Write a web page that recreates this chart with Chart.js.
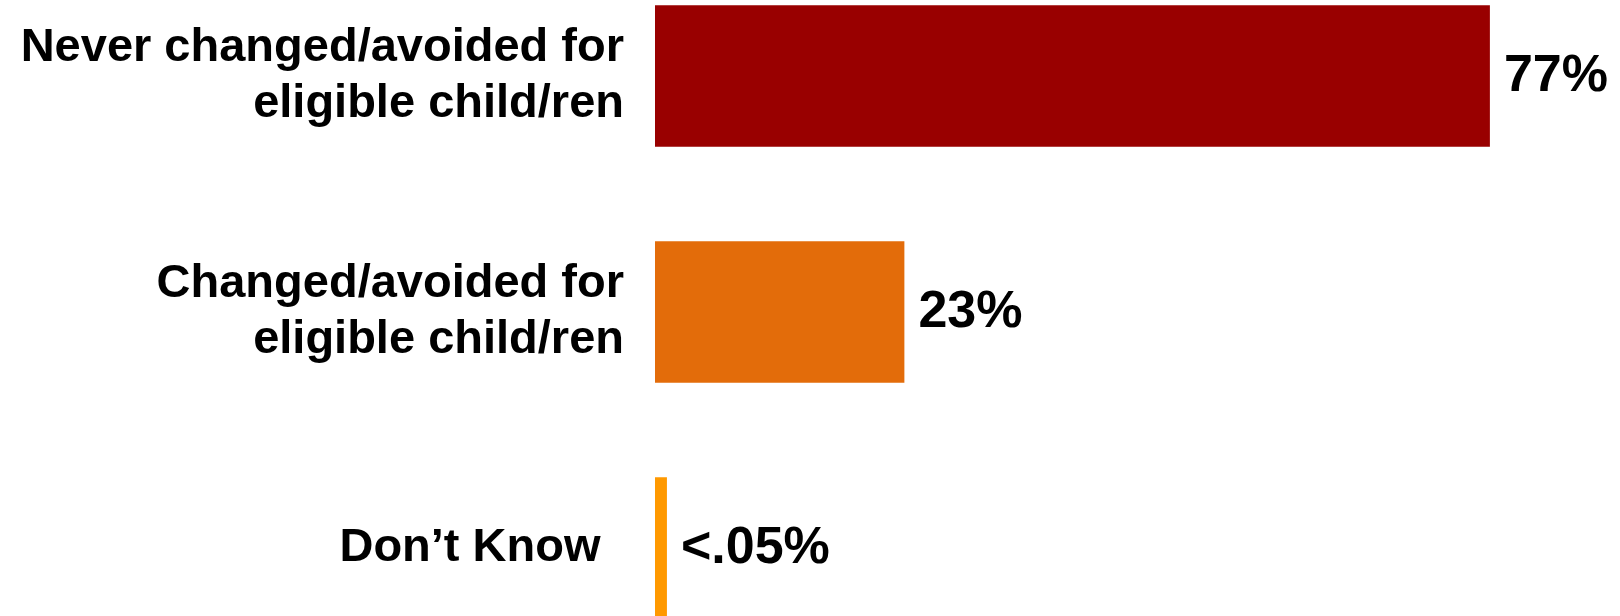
<!DOCTYPE html>
<html>
<head>
<meta charset="utf-8">
<script src="https://cdn.jsdelivr.net/npm/chart.js@4/dist/chart.umd.min.js"></script>
<style>
  html, body { margin: 0; padding: 0; background: #fff; overflow: hidden; }
  body { width: 1620px; height: 616px; position: relative; }
  #chart { position: absolute; left: 0; top: -42px; }
</style>
</head>
<body>
<canvas id="chart" width="1620" height="708"></canvas>
<script>
// Kategorie a hodnoty
const categories = [
  ["Never changed/avoided for", "eligible child/ren"],
  ["Changed/avoided for", "eligible child/ren"],
  "Don\u2019t Know\u2002",
];
const values = [77, 23, 1.1];
const valueLabels = ["77%", "23%", "<.05%"];

const barColors = ["#990000", "#E36C0A", "#FF9900"];
const fontFamily = "'Liberation Sans', Arial, Helvetica, sans-serif";

// Popisky hodnot vpravo od sloupců
const valueLabelPlugin = {
  id: "valueLabels",
  afterDatasetsDraw: function (chart) {
    const ctx = chart.ctx;
    const meta = chart.getDatasetMeta(0);
    ctx.save();
    ctx.font = "bold 52px " + fontFamily;
    ctx.fillStyle = "#000";
    ctx.textAlign = "left";
    ctx.textBaseline = "middle";
    meta.data.forEach((bar, i) => {
      ctx.fillText(valueLabels[i], bar.x + 14, bar.y + 1);
    });
    ctx.restore();
  },
};

const ctx = document.getElementById("chart").getContext("2d");
new Chart(ctx, {
  type: "bar",
  data: {
    labels: categories,
    datasets: [
      {
        data: values,
        backgroundColor: barColors,
        borderWidth: 0,
        barPercentage: 0.6,
        categoryPercentage: 1,
      },
    ],
  },
  options: {
    indexAxis: "y",
    responsive: false,
    animation: false,
    devicePixelRatio: 1,
    layout: { padding: 0 },
    plugins: {
      legend: { display: false },
      tooltip: { enabled: false },
    },
    scales: {
      x: {
        display: false,
        min: 0,
        max: 89,
      },
      y: {
        grid: { display: false, drawTicks: false },
        border: { display: false },
        afterFit: function (scale) {
          // pevná šířka osy a žádný okraj nahoře/dole
          scale.width = 655;
          scale.paddingTop = 0;
          scale.paddingBottom = 0;
        },
        ticks: {
          padding: 31,
          color: "#000",
          font: { family: fontFamily, size: 47, weight: "bold", lineHeight: 1.2 },
        },
      },
    },
  },
  plugins: [valueLabelPlugin],
});
</script>
</body>
</html>
